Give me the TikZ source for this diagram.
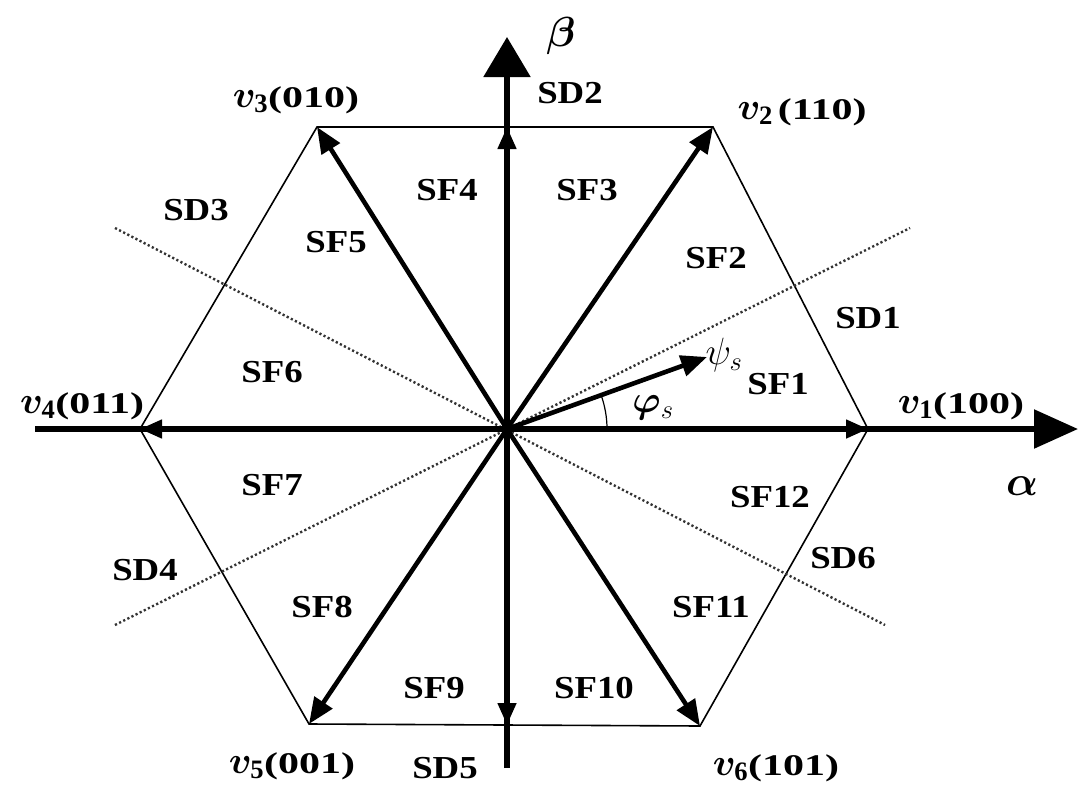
\RequirePackage{fix-cm}
\documentclass[tikz,border=0pt]{standalone}
\usepackage{fontspec}
\usepackage{bm}
\setmainfont{Liberation Serif}
\newfontfamily\labfont{Liberation Serif}[FakeStretch=1.15]
\newfontfamily\vecfont{Liberation Serif}[FakeStretch=1.4]
\usetikzlibrary{arrows.meta}
\newcommand{\vv}[1]{{\fontsize{38}{40}\selectfont$\bm{v}_{\mathbf{#1}}$}}
\begin{document}
\begin{tikzpicture}[x=1pt,y=-1pt,
  lab/.style={font=\fontsize{32}{34}\selectfont\labfont\bfseries, inner sep=0pt},
  vlab/.style={font=\fontsize{30}{32}\selectfont\vecfont\bfseries, inner sep=0pt},
  glab/.style={font=\fontsize{42}{44}\selectfont, inner sep=0pt},
  slab/.style={font=\fontsize{38}{40}\selectfont, inner sep=0pt},
  hexline/.style={line width=1.6pt, line join=miter},
  vecarrow/.style={line width=4.6pt,-{Triangle[length=26pt,width=21pt]}},
  axisarrow/.style={line width=5.5pt},
  sectorline/.style={line width=2.4pt, dash pattern=on 2.2pt off 2.4pt, black!80}]
\useasboundingbox (0,0) rectangle (1080,790);
% key points
\coordinate (O) at (507,429);
\coordinate (V1) at (868,429);
\coordinate (V2) at (713,127);
\coordinate (V3) at (317,127);
\coordinate (V4) at (140,429);
\coordinate (V5) at (309,724);
\coordinate (V6) at (700,726);
\coordinate (T) at (507,127);
\coordinate (B) at (507,725);
\coordinate (AL) at (35,429);
\coordinate (AR) at (1078,429);
\coordinate (BB) at (507,768);
\coordinate (BT) at (507,37);
\coordinate (D1a) at (115,228);
\coordinate (D1b) at (885,625);
\coordinate (D2a) at (115,625);
\coordinate (D2b) at (910,228);
\coordinate (P) at (707,357);
% hexagon
\draw[hexline] (V1)--(V2)--(V3)--(V4)--(V5)--(V6)--cycle;
% sector boundaries
\draw[sectorline] (D1a)--(D1b);
\draw[sectorline] (D2a)--(D2b);
% axes
\draw[axisarrow,-{Triangle[length=44pt,width=38pt]}] (AL)--(AR);
\draw[axisarrow,-{Triangle[length=40pt,width=46pt]}] (BB)--(BT);
% voltage vectors
\draw[vecarrow,-{Triangle[length=22pt,width=18pt]}] (O)--(V1);
\draw[vecarrow,-{Triangle[length=22pt,width=18pt]}] (O)--(V4);
\draw[vecarrow,-{Triangle[length=22pt,width=18pt]}] (O)--(T);
\draw[vecarrow,-{Triangle[length=22pt,width=18pt]}] (O)--(B);
\draw[vecarrow] (O)--(V2);
\draw[vecarrow] (O)--(V3);
\draw[vecarrow] (O)--(V5);
\draw[vecarrow] (O)--(V6);
% flux vector
\draw[vecarrow] (O)--(P);
\draw[line width=1.2pt] (607,429) arc[start angle=0,end angle=-20,radius=100];
% labels
\node[glab] (beta) at (561,36) {$\bm{\beta}$};
\node[glab] (alpha) at (1022,486) {$\bm{\alpha}$};
\node[slab] (psi) at (724,355) {$\psi_s$};
\node[slab] (phi) at (653,408) {$\bm{\varphi}_s$};
\node[vlab] (l1) at (961,406) {\vv{1}(100)};
\node[vlab] (l2) at (802,112) {\vv{2}\,(110)};
\node[vlab] (l3) at (296,100) {\vv{3}(010)};
\node[vlab] (l4) at (82,406) {\vv{4}(011)};
\node[vlab] (l5) at (292,766) {\vv{5}(001)};
\node[vlab] (l6) at (776,768) {\vv{6}(101)};
\node[lab] (sd1) at (868,318) {SD1};
\node[lab] (sd2) at (570,93) {SD2};
\node[lab] (sd3) at (196,210) {SD3};
\node[lab] (sd4) at (145,570) {SD4};
\node[lab] (sd5) at (445,768) {SD5};
\node[lab] (sd6) at (843,558) {SD6};
\node[lab] (sf1) at (778,384) {SF1};
\node[lab] (sf2) at (716,258) {SF2};
\node[lab] (sf3) at (587,190) {SF3};
\node[lab] (sf4) at (447,190) {SF4};
\node[lab] (sf5) at (336,242) {SF5};
\node[lab] (sf6) at (272,372) {SF6};
\node[lab] (sf7) at (272,485) {SF7};
\node[lab] (sf8) at (322,607) {SF8};
\node[lab] (sf9) at (434,688) {SF9};
\node[lab] (sf10) at (594,688) {SF10};
\node[lab] (sf11) at (711,607) {SF11};
\node[lab] (sf12) at (770,497) {SF12};
\end{tikzpicture}
\end{document}
